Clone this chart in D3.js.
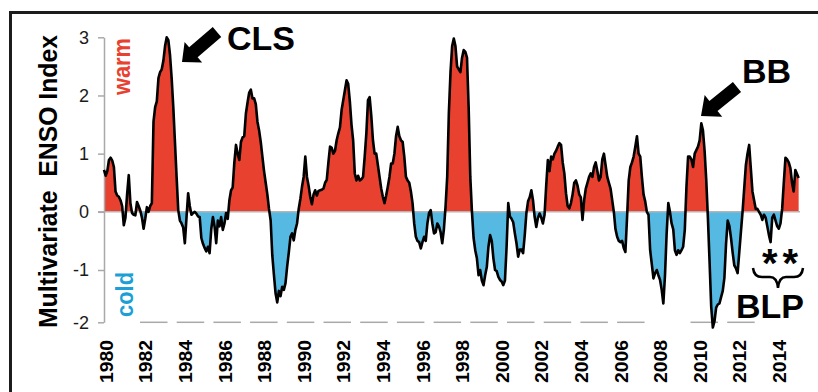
<!DOCTYPE html>
<html><head><meta charset="utf-8">
<script src="https://cdn.jsdelivr.net/npm/d3@7"></script>
<style>html,body{margin:0;padding:0;background:#fff;} svg{display:block;font-family:"Liberation Sans",Arial,sans-serif;}</style>
</head><body>
<svg id="c" width="818" height="392"></svg>
<script>
// Monthly Multivariate ENSO Index values, starting January 1980
const startYear = 1980;
const mei1980s = [
  0.72, 0.62, 0.70, 0.89, 0.93, 0.88, 0.77, 0.35, 0.28, 0.26, 0.20, 0.10,
  -0.23, -0.10, 0.30, 0.63, 0.15, -0.02, -0.05, -0.06, 0.17, 0.10, 0.02, -0.10,
  -0.29, -0.12, 0.08, 0.00, 0.10, 0.15, 1.55, 1.80, 1.90, 2.30, 2.40, 2.45,
  2.60, 2.85, 3.00, 2.95, 2.70, 2.30, 1.80, 1.20, 0.60, 0.03, -0.15, -0.20,
  -0.27, -0.54, -0.10, 0.32, 0.10, -0.05, -0.02, 0.00, -0.03, -0.08, -0.09, -0.45,
  -0.55, -0.62, -0.68, -0.60, -0.71, -0.30, -0.09, -0.25, -0.54, -0.15, -0.25, -0.09,
  -0.31, -0.20, -0.02, -0.12, 0.20, 0.37, 0.42, 0.85, 1.15, 1.00, 0.89, 1.20,
  1.28, 1.30, 1.69, 1.88, 2.05, 2.10, 1.95, 1.95, 1.85, 1.55, 1.40, 1.20,
  0.95, 0.70, 0.50, 0.30, 0.05, -0.15, -0.75, -1.10, -1.45, -1.62, -1.40, -1.50,
  -1.32, -1.38, -1.25, -0.94, -0.70, -0.43, -0.37, -0.49, -0.31, -0.20, 0.05, 0.22
];
const mei1990s = [
  0.43, 0.60, 0.95, 0.60, 0.45, 0.26, 0.13, 0.30, 0.37, 0.28, 0.36, 0.37,
  0.38, 0.40, 0.50, 0.55, 0.85, 1.12, 1.10, 1.00, 1.05, 1.23, 1.35, 1.45,
  1.75, 1.92, 2.09, 2.26, 2.20, 1.90, 1.50, 1.23, 0.66, 0.54, 0.62, 0.54,
  0.56, 0.60, 0.95, 1.35, 1.92, 1.97, 1.65, 1.23, 1.00, 1.00, 0.80, 0.60,
  0.40, 0.26, 0.15, 0.28, 0.43, 0.60, 0.83, 0.83, 1.00, 1.30, 1.46, 1.30,
  1.23, 1.20, 0.95, 0.60, 0.54, 0.50, 0.35, 0.15, -0.20, -0.43, -0.50, -0.52,
  -0.63, -0.52, -0.43, -0.50, -0.20, -0.02, 0.03, -0.20, -0.37, -0.35, -0.20, -0.25,
  -0.35, -0.54, -0.30, 0.09, 0.60, 1.70, 2.40, 2.85, 2.98, 2.85, 2.50, 2.45,
  2.40, 2.65, 2.78, 2.75, 2.65, 1.80, 0.60, 0.00, -0.45, -0.66, -0.80, -1.10,
  -1.00, -1.20, -1.29, -1.10, -0.95, -0.60, -0.40, -0.50, -0.80, -1.00, -1.02, -1.13
];
const mei2000s = [
  -1.19, -1.22, -1.29, -1.20, -0.60, 0.15, -0.08, -0.12, -0.18, -0.37, -0.54, -0.77,
  -0.65, -0.65, -0.71, -0.40, -0.02, 0.18, 0.25, 0.37, 0.20, -0.09, -0.26, -0.10,
  -0.03, -0.10, -0.20, -0.05, 0.45, 0.89, 0.70, 0.95, 0.90, 1.00, 1.05, 1.12,
  1.18, 1.15, 0.85, 0.66, 0.32, 0.10, 0.06, 0.15, 0.30, 0.50, 0.54, 0.45,
  0.30, 0.25, -0.14, 0.20, 0.40, 0.50, 0.60, 0.66, 0.60, 0.77, 0.85, 0.70,
  0.54, 0.60, 0.90, 1.00, 0.80, 0.60, 0.50, 0.40, 0.20, 0.00, -0.30, -0.43,
  -0.50, -0.52, -0.50, -0.62, -0.69, -0.10, 0.54, 0.77, 0.85, 0.95, 1.12, 1.30,
  1.00, 0.95, 0.60, 0.30, 0.18, 0.00, -0.05, -0.66, -0.90, -1.16, -1.06, -1.00,
  -1.10, -1.19, -1.38, -1.64, -1.10, -0.37, 0.15, 0.00, -0.20, -0.30, -0.66, -0.74,
  -0.66, -0.71, -0.66, -0.60, -0.31, 0.43, 0.95, 0.95, 0.90, 0.77, 1.00, 1.06
];
const mei2010s = [
  1.12, 1.23, 1.52, 1.40, 1.05, 0.55, -0.10, -0.85, -1.70, -2.10, -1.98, -1.72,
  -1.66, -1.64, -1.52, -1.40, -1.15, -0.55, -0.15, -0.24, -0.45, -0.70, -0.92, -0.97,
  -1.06, -0.70, -0.35, 0.00, 0.40, 0.80, 1.00, 1.15, 0.75, 0.35, 0.20, 0.05,
  0.05, 0.00, -0.05, -0.14, -0.05, -0.10, -0.25, -0.40, -0.52, -0.10, -0.05, -0.15,
  -0.25, -0.29, -0.20, 0.05, 0.50, 0.93, 0.90, 0.85, 0.75, 0.50, 0.35, 0.72,
  0.65, 0.58
];
const yTicks = [-2, -1, 0, 1, 2, 3];
const xTickYears = d3.range(1980, 2015, 2);
const yTitle = "Multivariate\u00a0\u00a0ENSO Index";
const warmLabel = "warm", coldLabel = "cold";
const notes = {cls: "CLS", bb: "BB", blp: "BLP", stars: "**"};

const data = [].concat(mei1980s, mei1990s, mei2000s, mei2010s)
  .map((v, i) => ({t: startYear + i / 12, v}));

const svg = d3.select("#c");
const x = d3.scaleLinear().domain([1980, 2015]).range([104, 797]);
const y = d3.scaleLinear().domain([-2, -1, 3]).range([322.3, 270, 37.3]);

const RED = "#e8412f", BLUE = "#56b9e2", GRAY = "#a9a9a9";

// frame
svg.append("rect").attr("x", 10.5).attr("y", 12.5).attr("width", 900).attr("height", 500)
  .attr("fill", "none").attr("stroke", "#1c1c1c").attr("stroke-width", 3);

const defs = svg.append("defs");
defs.append("clipPath").attr("id", "warm").append("rect")
  .attr("x", 0).attr("y", 0).attr("width", 818).attr("height", y(0));
defs.append("clipPath").attr("id", "cold").append("rect")
  .attr("x", 0).attr("y", y(0)).attr("width", 818).attr("height", 392 - y(0));

// dashed baseline at -2
const dashG = svg.append("g");
for (let k = 0; k <= 16; k++) {
  if (k === 14) continue;
  const x1 = 140 + 36.7 * k;
  dashG.append("line").attr("x1", x1).attr("x2", x1 + 27.5)
    .attr("y1", y(-2)).attr("y2", y(-2))
    .attr("stroke", GRAY).attr("stroke-width", 1.5);
}

const area = d3.area().x(d => x(d.t)).y0(y(0)).y1(d => y(d.v));
svg.append("path").datum(data).attr("d", area).attr("fill", RED).attr("clip-path", "url(#warm)");
svg.append("path").datum(data).attr("d", area).attr("fill", BLUE).attr("clip-path", "url(#cold)");

// zero line
svg.append("line").attr("x1", 98).attr("x2", 800).attr("y1", y(0)).attr("y2", y(0))
  .attr("stroke", "#b4b4b4").attr("stroke-width", 1.5);

// y axis
const yAxis = svg.append("g").attr("transform", "translate(104,0)")
  .call(d3.axisLeft(y).tickValues(yTicks).tickSize(6).tickSizeOuter(0).tickPadding(9)
    .tickFormat(d => String(d)));
yAxis.select(".domain").attr("stroke", GRAY).attr("stroke-width", 1.5);
yAxis.selectAll(".tick line").attr("stroke", GRAY).attr("stroke-width", 1.5);
yAxis.selectAll(".tick text").attr("font-size", 18).attr("fill", "#1a1a1a")
  .attr("font-family", "'Liberation Sans', Arial, sans-serif");

// data line
svg.append("path").datum(data)
  .attr("d", d3.line().x(d => x(d.t)).y(d => y(d.v)))
  .attr("fill", "none").attr("stroke", "#000").attr("stroke-width", 2.6)
  .attr("stroke-linejoin", "round");

// x labels
svg.append("g").selectAll("text").data(xTickYears).join("text")
  .attr("transform", d => `translate(${x(d) + 2},340) rotate(-90)`)
  .attr("dy", "0.36em").attr("text-anchor", "end")
  .attr("font-size", 19).attr("font-weight", "bold").attr("fill", "#000")
  .attr("textLength", 43).attr("lengthAdjust", "spacingAndGlyphs")
  .text(d => d);

// y title
svg.append("text").attr("transform", "translate(57,181.5) rotate(-90)")
  .attr("text-anchor", "middle").attr("font-size", 26).attr("font-weight", "bold")
  .attr("textLength", 293).attr("lengthAdjust", "spacingAndGlyphs")
  .text(yTitle);

svg.append("text").attr("transform", "translate(130,95) rotate(-90)")
  .attr("font-size", 24).attr("font-weight", "bold").attr("fill", RED)
  .attr("textLength", 57).attr("lengthAdjust", "spacingAndGlyphs").text(warmLabel);
svg.append("text").attr("transform", "translate(133,317) rotate(-90)")
  .attr("font-size", 23).attr("font-weight", "bold").attr("fill", "#1a9fd6")
  .attr("textLength", 45).attr("lengthAdjust", "spacingAndGlyphs").text(coldLabel);

// annotations
function arrow(tail, tip, shaftW, headW, headL) {
  const dx = tip[0] - tail[0], dy = tip[1] - tail[1];
  const len = Math.hypot(dx, dy), ux = dx / len, uy = dy / len;
  const px = -uy, py = ux;
  const bx = tip[0] - ux * headL, by = tip[1] - uy * headL;
  const pts = [
    [tail[0] + px * shaftW / 2, tail[1] + py * shaftW / 2],
    [bx + px * shaftW / 2, by + py * shaftW / 2],
    [bx + px * headW / 2, by + py * headW / 2],
    tip,
    [bx - px * headW / 2, by - py * headW / 2],
    [bx - px * shaftW / 2, by - py * shaftW / 2],
    [tail[0] - px * shaftW / 2, tail[1] - py * shaftW / 2]
  ];
  return "M" + pts.map(p => p.join(",")).join("L") + "Z";
}
svg.append("path").attr("d", arrow([217, 32], [182, 62], 13, 27, 15)).attr("fill", "#000");
svg.append("path").attr("d", arrow([737, 87], [701, 116], 13, 28, 16)).attr("fill", "#000");

const big = {"font-size": 34, "font-weight": "bold", "fill": "#000"};
function txt(s, x0, y0, attrs) {
  const t = svg.append("text").attr("x", x0).attr("y", y0).text(s);
  Object.entries(attrs).forEach(([k, v]) => t.attr(k, v));
  return t;
}
txt(notes.cls, 227, 50, big);
txt(notes.bb, 742, 83, big);
txt(notes.blp, 736, 318, big);
txt(notes.stars, 762, 277, {"font-size": 40, "font-weight": "bold", "fill": "#000", "letter-spacing": 5});

svg.append("path")
  .attr("d", "M753,268 Q754,277 762,277 H770 Q777,277 778,288 Q779,277 786,277 H794 Q802,277 803,268")
  .attr("fill", "none").attr("stroke", "#000").attr("stroke-width", 2.5);
</script>
</body></html>
